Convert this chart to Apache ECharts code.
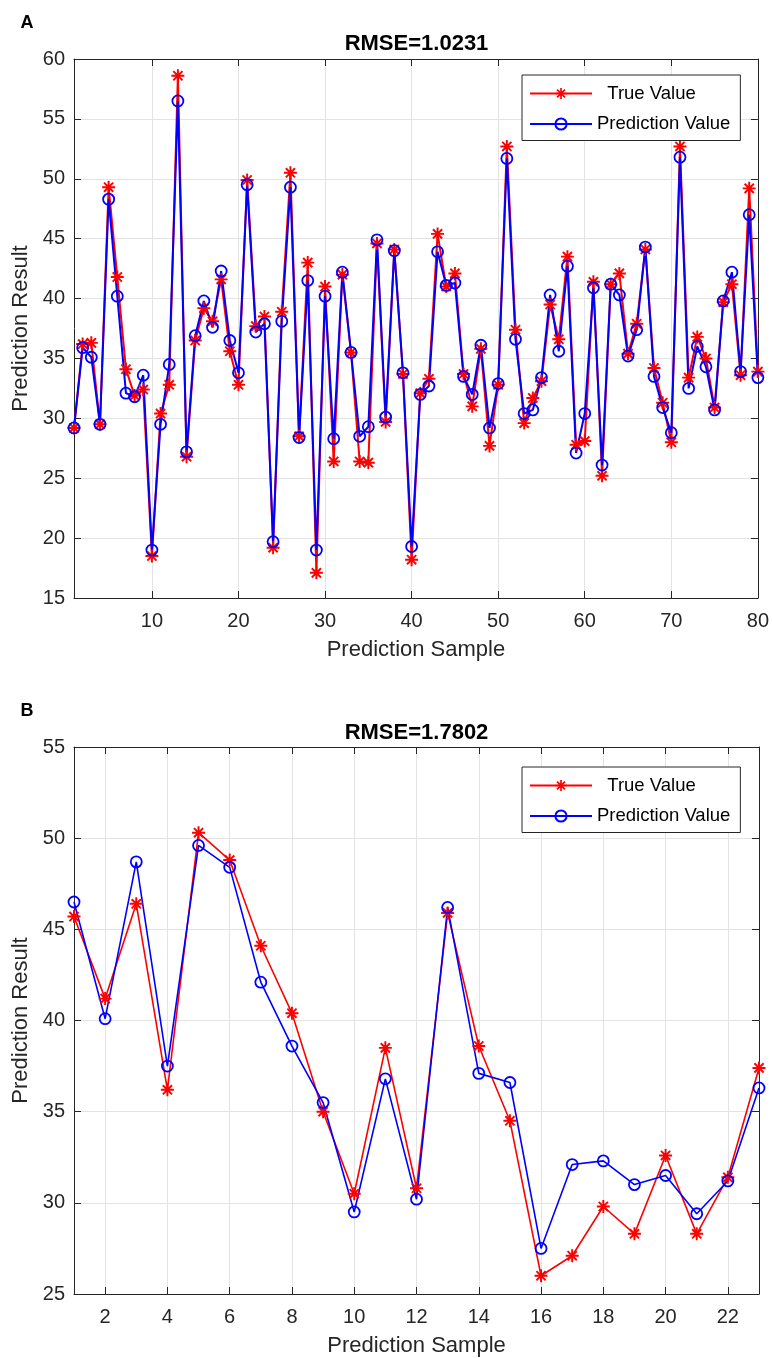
<!DOCTYPE html>
<html>
<head>
<meta charset="utf-8">
<script src="https://cdn.jsdelivr.net/npm/echarts@6/dist/echarts.min.js"></script>
<style>
  html, body { margin: 0; padding: 0; background: #ffffff; }
  #chart { width: 772px; height: 1358px; }
</style>
</head>
<body>
<div id="chart"></div>
<script>
// ---------- Data ----------
const seriesNames = ['True Value', 'Prediction Value'];

// Panel A: 80 prediction samples
const trueA = [29.2, 36.2, 36.3, 29.5, 49.3, 41.8, 34.1, 31.9, 32.4, 18.5,
               30.4, 32.8, 58.6, 26.8, 36.5, 39.2, 38.1, 41.6, 35.6, 32.8,
               49.9, 37.7, 38.5, 19.2, 38.9, 50.5, 28.5, 43.0, 17.1, 41.0,
               26.4, 42.0, 35.5, 26.4, 26.3, 44.6, 29.7, 44.1, 33.7, 18.2,
               32.1, 33.3, 45.4, 41.0, 42.1, 33.7, 31.0, 35.8, 27.7, 32.8,
               52.7, 37.4, 29.6, 31.7, 33.1, 39.5, 36.6, 43.5, 27.8, 28.1,
               41.4, 25.2, 41.2, 42.1, 35.4, 37.9, 44.1, 34.2, 31.3, 28.0,
               52.7, 33.4, 36.8, 35.0, 30.9, 39.7, 41.2, 33.6, 49.2, 33.9];
const predA = [29.2, 35.9, 35.1, 29.5, 48.3, 40.2, 32.1, 31.8, 33.6, 19.0,
               29.5, 34.5, 56.5, 27.2, 36.9, 39.8, 37.6, 42.3, 36.5, 33.8,
               49.5, 37.2, 37.9, 19.7, 38.1, 49.3, 28.4, 41.5, 19.0, 40.2,
               28.3, 42.2, 35.5, 28.5, 29.3, 44.9, 30.1, 44.0, 33.8, 19.3,
               32.0, 32.7, 43.9, 41.1, 41.3, 33.5, 32.0, 36.1, 29.2, 32.9,
               51.7, 36.6, 30.4, 30.7, 33.4, 40.3, 35.6, 42.7, 27.1, 30.4,
               40.9, 26.1, 41.2, 40.3, 35.2, 37.4, 44.3, 33.5, 30.9, 28.8,
               51.8, 32.5, 36.0, 34.3, 30.7, 39.8, 42.2, 33.9, 47.0, 33.4];
const xTicksA = [10, 20, 30, 40, 50, 60, 70, 80];
const yRangeA = [15, 60];

// Panel B: 23 prediction samples
const trueB = [45.7, 41.2, 46.4, 36.2, 50.3, 48.8, 44.1, 40.4, 35.0, 30.5,
               38.5, 30.8, 45.9, 38.6, 34.5, 26.0, 27.1, 29.8, 28.3, 32.6,
               28.3, 31.4, 37.4];
const predB = [46.5, 40.1, 48.7, 37.5, 49.6, 48.4, 42.1, 38.6, 35.5, 29.5,
               36.8, 30.2, 46.2, 37.1, 36.6, 27.5, 32.1, 32.3, 31.0, 31.5,
               29.4, 31.2, 36.3];
const xTicksB = [2, 4, 6, 8, 10, 12, 14, 16, 18, 20, 22];
const yRangeB = [25, 55];

const titleA = 'RMSE=1.0231';
const titleB = 'RMSE=1.7802';

// ---------- Helpers ----------
const FONT = '"Liberation Sans", Arial, Helvetica, sans-serif';
const AX = '#262626';
const GRIDC = '#e3e3e3';
const STAR = 'path://M8.5,0L11.5,0L11.5,20L8.5,20Z' +
             'M0,8.5L20,8.5L20,11.5L0,11.5Z' +
             'M3.99,1.87L18.13,16.01L16.01,18.13L1.87,3.99Z' +
             'M16.01,1.87L18.13,3.99L3.99,18.13L1.87,16.01Z';

const toPairs = arr => arr.map((v, i) => [i + 1, v]);

function xAxes(gridIndex, n, ticks) {
  return [
    {
      type: 'value', gridIndex: gridIndex, position: 'bottom', min: 1, max: n,
      name: 'Prediction Sample', nameLocation: 'middle', nameGap: 41,
      nameTextStyle: { fontFamily: FONT, fontSize: 22, color: AX },
      axisLine: { show: true, onZero: false, lineStyle: { color: AX, width: 1 } },
      axisTick: { show: true, inside: true, length: 7, customValues: ticks, lineStyle: { color: AX } },
      axisLabel: { show: true, customValues: ticks, margin: 13, fontFamily: FONT, fontSize: 20, color: AX },
      splitLine: { show: true, lineStyle: { color: GRIDC, width: 1 } }
    },
    {
      type: 'value', gridIndex: gridIndex, position: 'top', min: 1, max: n,
      axisLine: { show: true, onZero: false, lineStyle: { color: AX, width: 1 } },
      axisTick: { show: true, inside: true, length: 7, customValues: ticks, lineStyle: { color: AX } },
      axisLabel: { show: false },
      splitLine: { show: false }
    }
  ];
}
function yAxes(gridIndex, range) {
  return [
    {
      type: 'value', gridIndex: gridIndex, position: 'left', min: range[0], max: range[1], interval: 5,
      name: 'Prediction Result', nameLocation: 'middle', nameGap: 36,
      nameTextStyle: { fontFamily: FONT, fontSize: 22, color: AX },
      axisLine: { show: true, onZero: false, lineStyle: { color: AX, width: 1 } },
      axisTick: { show: true, inside: true, length: 7, lineStyle: { color: AX } },
      axisLabel: { show: true, margin: 9, fontFamily: FONT, fontSize: 20, color: AX },
      splitLine: { show: true, lineStyle: { color: GRIDC, width: 1 } }
    },
    {
      type: 'value', gridIndex: gridIndex, position: 'right', min: range[0], max: range[1], interval: 5,
      axisLine: { show: true, onZero: false, lineStyle: { color: AX, width: 1 } },
      axisTick: { show: true, inside: true, length: 7, lineStyle: { color: AX } },
      axisLabel: { show: false },
      splitLine: { show: false }
    }
  ];
}
function seriesPair(xi, yi, tr, pr, lw) {
  return [
    {
      name: seriesNames[0], type: 'line', xAxisIndex: xi, yAxisIndex: yi,
      data: toPairs(tr), symbol: STAR, symbolSize: 13, symbolKeepAspect: true,
      showSymbol: true, clip: false, silent: true,
      lineStyle: { color: '#ff0000', width: lw },
      itemStyle: { color: '#ff0000', borderWidth: 0 },
      emphasis: { disabled: true }
    },
    {
      name: seriesNames[1], type: 'line', xAxisIndex: xi, yAxisIndex: yi,
      data: toPairs(pr), symbol: 'circle', symbolSize: 11,
      showSymbol: true, clip: false, silent: true,
      lineStyle: { color: '#0000ff', width: lw },
      itemStyle: { color: 'rgba(255,255,255,0)', borderColor: '#0000ff', borderWidth: 1.8 },
      emphasis: { disabled: true }
    }
  ];
}
function legendAt(top) {
  return {
    data: seriesNames, orient: 'vertical', left: 522, top: top,
    padding: [9, 10, 7, 7], itemWidth: 62, itemHeight: 14, itemGap: 11.5,
    borderColor: AX, borderWidth: 1, backgroundColor: '#ffffff', borderRadius: 0,
    selectedMode: false,
    formatter: name => (name === 'True Value' ? '  ' + name : name),
    textStyle: { fontFamily: FONT, fontSize: 18.5, color: '#000000', lineHeight: 14 }
  };
}

const chart = echarts.init(document.getElementById('chart'), null, { renderer: 'canvas' });
chart.setOption({
  animation: false,
  backgroundColor: '#ffffff',
  grid: [
    { left: 74, top: 59, width: 685, height: 539 },
    { left: 74, top: 747, width: 685, height: 547 }
  ],
  xAxis: [].concat(xAxes(0, trueA.length, xTicksA), xAxes(1, trueB.length, xTicksB)),
  yAxis: [].concat(yAxes(0, yRangeA), yAxes(1, yRangeB)),
  legend: [legendAt(75), legendAt(767)],
  series: [].concat(seriesPair(0, 0, trueA, predA, 2), seriesPair(2, 2, trueB, predB, 1.6)),
  graphic: [
    { type: 'text', x: 27, y: 23.5, style: { text: 'A', font: 'bold 18px ' + FONT, fill: '#000', align: 'center', verticalAlign: 'middle' } },
    { type: 'text', x: 416.5, y: 44, style: { text: titleA, font: 'bold 22px ' + FONT, fill: '#000', align: 'center', verticalAlign: 'middle' } },
    { type: 'text', x: 27, y: 711.5, style: { text: 'B', font: 'bold 18px ' + FONT, fill: '#000', align: 'center', verticalAlign: 'middle' } },
    { type: 'text', x: 416.5, y: 733, style: { text: titleB, font: 'bold 22px ' + FONT, fill: '#000', align: 'center', verticalAlign: 'middle' } }
  ]
});
</script>
</body>
</html>
